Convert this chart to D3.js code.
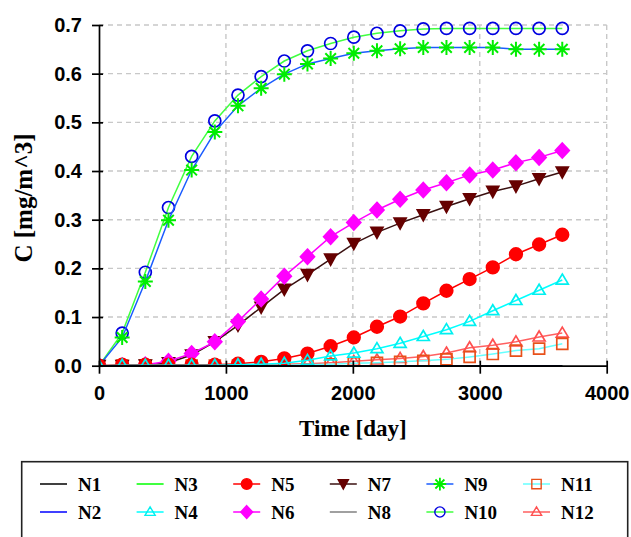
<!DOCTYPE html>
<html>
<head>
<meta charset="utf-8">
<script src="https://cdn.jsdelivr.net/npm/d3@7"></script>
<style>
  body { margin: 0; background: #fff; }
  svg { display: block; }
</style>
</head>
<body>
<svg id="chart" width="631" height="537"></svg>
<script>
// Sampling times (days), one sample every half year over ten years
const days = [0, 182.5, 365, 547.5, 730, 912.5, 1095, 1277.5, 1460, 1642.5, 1825,
              2007.5, 2190, 2372.5, 2555, 2737.5, 2920, 3102.5, 3285, 3467.5, 3650];

// Concentration C [mg/m^3] at each node
const N1  = [0,0,0,0,0,0,0,0,0,0,0,0,0,0,0,0,0,0,0,0,0];
const N2  = [0,0,0,0,0,0,0,0,0,0,0,0,0,0,0,0,0,0,0,0,0];
const N3  = [0,0,0,0,0,0,0,0,0,0,0,0,0,0,0,0,0,0,0,0,0];
const N4  = [0, 0.001, 0.001, 0.001, 0.001, 0.001, 0.002, 0.003, 0.005, 0.011, 0.020,
             0.026, 0.035, 0.046, 0.060, 0.074, 0.091, 0.113, 0.134, 0.155, 0.176];
const N5  = [0, 0.002, 0.002, 0.002, 0.002, 0.002, 0.004, 0.008, 0.015, 0.025, 0.040,
             0.058, 0.080, 0.101, 0.128, 0.154, 0.178, 0.202, 0.229, 0.249, 0.269];
const N6  = [0, 0.000, 0.002, 0.009, 0.025, 0.049, 0.091, 0.137, 0.184, 0.224, 0.265,
             0.294, 0.320, 0.342, 0.361, 0.376, 0.392, 0.402, 0.417, 0.428, 0.442];
const N7  = [0, 0.000, 0.001, 0.006, 0.022, 0.049, 0.083, 0.120, 0.157, 0.187, 0.219,
             0.251, 0.274, 0.293, 0.310, 0.327, 0.343, 0.358, 0.369, 0.384, 0.398];
const N8  = [0,0,0,0,0,0,0,0,0,0,0,0,0,0,0,0,0,0,0,0,0];
const N9  = [0, 0.058, 0.173, 0.299, 0.402, 0.480, 0.534, 0.570, 0.599, 0.620, 0.631,
             0.642, 0.647, 0.651, 0.654, 0.654, 0.654, 0.654, 0.650, 0.650, 0.650];
const N10 = [0, 0.067, 0.192, 0.325, 0.430, 0.503, 0.556, 0.594, 0.626, 0.647, 0.662,
             0.675, 0.683, 0.688, 0.692, 0.693, 0.693, 0.693, 0.693, 0.693, 0.693];
const N11 = [0, 0, 0, 0, 0, 0, 0, 0, 0.001, 0.002, 0.003,
             0.005, 0.006, 0.008, 0.010, 0.013, 0.018, 0.024, 0.031, 0.035, 0.045];
const N12 = [0, 0.001, 0.001, 0.001, 0.001, 0.001, 0.002, 0.002, 0.003, 0.004, 0.006,
             0.009, 0.012, 0.015, 0.019, 0.026, 0.037, 0.042, 0.049, 0.059, 0.067];

const seriesNames = ["N1","N2","N3","N4","N5","N6","N7","N8","N9","N10","N11","N12"];
const seriesValues = [N1,N2,N3,N4,N5,N6,N7,N8,N9,N10,N11,N12];

const xTicks = [0, 1000, 2000, 3000, 4000];
const yTicks = [0, 0.1, 0.2, 0.3, 0.4, 0.5, 0.6, 0.7];
const xTitle = "Time [day]";
const yTitle = "C [mg/m^3]";

// Line colour, marker shape and marker colours per node
const styles = {
  N1:  { line: "#000000", marker: null },
  N2:  { line: "#0000ff", marker: null },
  N3:  { line: "#00ff00", marker: null },
  N4:  { line: "#00ffff", marker: "triUp",   fill: "none",    stroke: "#00f0f0" },
  N5:  { line: "#ff0000", marker: "circle",  fill: "#ff0000", stroke: "#ff0000" },
  N6:  { line: "#ff00ff", marker: "diamond", fill: "#ff00ff", stroke: "#ff00ff" },
  N7:  { line: "#3a1010", marker: "triDown", fill: "#660000", stroke: "#660000" },
  N8:  { line: "#808080", marker: null },
  N9:  { line: "#1a5cff", marker: "star",    fill: "none",    stroke: "#00ee00" },
  N10: { line: "#40ff40", marker: "ring",    fill: "none",    stroke: "#0000e0" },
  N11: { line: "#66ffff", marker: "square",  fill: "none",    stroke: "#e8501a" },
  N12: { line: "#ff6060", marker: "triUp",   fill: "none",    stroke: "#ff5050" }
};

const markerPaths = {
  triUp:   s => `M0,${-6*s}L${6*s},${4*s}L${-6*s},${4*s}Z`,
  triDown: s => `M${-6*s},${-5*s}L${6*s},${-5*s}L0,${6*s}Z`,
  circle:  s => { const r = 6.3*s; return `M${-r},0A${r},${r} 0 1,0 ${r},0A${r},${r} 0 1,0 ${-r},0Z`; },
  ring:    s => { const r = 6*s; return `M${-r},0A${r},${r} 0 1,0 ${r},0A${r},${r} 0 1,0 ${-r},0Z`; },
  diamond: s => `M0,${-7.5*s}L${7*s},0L0,${7.5*s}L${-7*s},0Z`,
  square:  s => `M${-5.5*s},${-5.5*s}h${11*s}v${11*s}h${-11*s}Z`,
  star:    s => { const a = 7.5*s, d = 5.3*s;
                  return `M0,${-a}V${a}M${-a},0H${a}M${-d},${-d}L${d},${d}M${-d},${d}L${d},${-d}`; }
};

const svg = d3.select("#chart");
const W = 631, H = 537;
const plot = { left: 99, right: 606.7, top: 25, bottom: 365.7 };

const x = d3.scaleLinear().domain([0, 4000]).range([plot.left, plot.right]);
const y = d3.scaleLinear().domain([0, 0.7]).range([plot.bottom, plot.top]);

svg.append("rect").attr("width", W).attr("height", H).attr("fill", "#fff");

// Dashed grid
const grid = svg.append("g").attr("stroke", "#c8c8c8").attr("stroke-width", 1.4)
  .attr("stroke-dasharray", "5,4");
grid.selectAll("line.h").data(yTicks.filter(d => d > 0)).join("line")
  .attr("x1", plot.left).attr("x2", plot.right)
  .attr("y1", d => y(d)).attr("y2", d => y(d));
grid.selectAll("line.v").data(xTicks.filter(d => d > 0)).join("line")
  .attr("y1", plot.top).attr("y2", plot.bottom)
  .attr("x1", d => x(d)).attr("x2", d => x(d));

// Clip data to the plotting region
svg.append("clipPath").attr("id", "clip").append("rect")
  .attr("x", plot.left).attr("y", 0)
  .attr("width", W - plot.left).attr("height", plot.bottom);

const data = svg.append("g").attr("clip-path", "url(#clip)");
const lineGen = d3.line().x((d, i) => x(days[i])).y(d => y(d));

// Later nodes are drawn first so earlier nodes sit on top
for (let k = seriesNames.length - 1; k >= 0; k--) {
  const name = seriesNames[k];
  const vals = seriesValues[k];
  const st = styles[name];
  const g = data.append("g").attr("class", "series-" + name);
  g.append("path").attr("d", lineGen(vals)).attr("fill", "none")
    .attr("stroke", st.line).attr("stroke-width", 1.5);
  if (st.marker) {
    g.selectAll("path.m").data(vals).join("path").attr("class", "m")
      .attr("transform", (d, i) => `translate(${x(days[i])},${y(d)})`)
      .attr("d", markerPaths[st.marker](1))
      .attr("fill", st.fill).attr("stroke", st.stroke)
      .attr("stroke-width", st.marker === "star" ? 2 : 1.7);
  }
}

// Axes
const xAxis = svg.append("g").attr("transform", `translate(0,${plot.bottom})`)
  .call(d3.axisBottom(x).tickValues(xTicks).tickFormat(d3.format("d"))
    .tickSizeInner(8).tickSizeOuter(0).tickPadding(12));
xAxis.selectAll(".tick line").attr("y1", -5);
const yAxis = svg.append("g").attr("transform", `translate(${plot.left},0)`)
  .call(d3.axisLeft(y).tickValues(yTicks).tickFormat(d3.format(".1f"))
    .tickSizeInner(7).tickSizeOuter(0).tickPadding(10));
yAxis.selectAll(".tick line").attr("x1", 4);
[xAxis, yAxis].forEach(a => {
  a.select(".domain").attr("stroke", "#000").attr("stroke-width", 1.7);
  a.selectAll(".tick line").attr("stroke", "#000").attr("stroke-width", 1.7);
  a.selectAll(".tick text").attr("fill", "#000")
    .style("font-family", "'Liberation Sans', Arial, sans-serif")
    .style("font-size", "20px").style("font-weight", "bold");
});

// Axis titles
svg.append("text").attr("x", (plot.left + plot.right) / 2).attr("y", 436)
  .attr("text-anchor", "middle")
  .style("font-family", "'Liberation Serif', 'Times New Roman', serif")
  .style("font-size", "23px").style("font-weight", "bold")
  .text(xTitle);
svg.append("text").attr("transform", "translate(32,198) rotate(-90)")
  .attr("text-anchor", "middle")
  .style("font-family", "'Liberation Serif', 'Times New Roman', serif")
  .style("font-size", "25px").style("font-weight", "bold")
  .text(yTitle);

// Legend
const legend = svg.append("g");
legend.append("rect").attr("x", 21.7).attr("y", 461.7).attr("width", 606).attr("height", 120)
  .attr("fill", "#fff").attr("stroke", "#222").attr("stroke-width", 1.6);
const colX = d3.scalePoint().domain([0,1,2,3,4,5]).range([40, 523]);
const rowY = d3.scalePoint().domain([0,1]).range([484, 512]);
seriesNames.forEach((name, k) => {
  const st = styles[name];
  const cx = colX(Math.floor(k / 2)), cy = rowY(k % 2);
  const item = legend.append("g").attr("transform", `translate(${cx},${cy})`);
  item.append("line").attr("x1", 0).attr("x2", 27).attr("y1", 0).attr("y2", 0)
    .attr("stroke", st.line).attr("stroke-width", 1.5);
  if (st.marker) {
    item.append("path").attr("transform", "translate(13.5,0)")
      .attr("d", markerPaths[st.marker](0.85))
      .attr("fill", st.fill).attr("stroke", st.stroke)
      .attr("stroke-width", st.marker === "star" ? 1.8 : 1.4);
  }
  item.append("text").attr("x", 38).attr("y", 0).attr("dy", "0.35em")
    .style("font-family", "'Liberation Serif', 'Times New Roman', serif")
    .style("font-size", "19px").style("font-weight", "bold")
    .text(name);
});
</script>
</body>
</html>
